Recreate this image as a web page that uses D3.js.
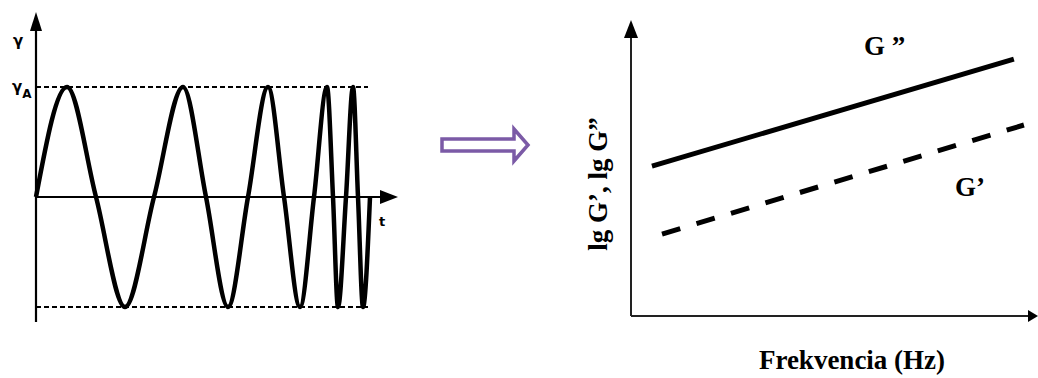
<!DOCTYPE html>
<html>
<head>
<meta charset="utf-8">
<script src="https://cdn.jsdelivr.net/npm/d3@7"></script>
<style>
  html, body { margin: 0; padding: 0; background: #fff; }
  svg { display: block; }
</style>
</head>
<body>
<div id="chart"></div>
<script>
// Left panel: oscillation with increasing frequency (zero crossings and extrema)
var waveT = [0, 31, 60, 89, 118, 147, 170, 192, 212, 232, 248, 264, 278, 291, 297, 302, 310, 317, 322, 327, 334];
var waveY = [0, 1, 0, -1, 0, 1, 0, -1, 0, 1, 0, -1, 0, 1, 0, -1, 0, 1, 0, -1, 0];

// Right panel: lg G' and lg G'' against log frequency
var freqLog = [0.52, 9.5];
var gDoublePrime = [5.03, 8.62];
var gPrime = [2.75, 6.41];

var w = 1038;
var h = 378;

var svg = d3.select("#chart")
    .append("svg")
    .attr("width", w)
    .attr("height", h);

// ---------- left panel ----------
var xL = d3.scaleLinear().domain([0, 334]).range([36, 370]);
var yL = d3.scaleLinear().domain([-1, 1]).range([307, 87]);

var left = svg.append("g");

// amplitude guide lines
[1, -1].forEach(function (v) {
    left.append("line")
        .attr("x1", xL(0)).attr("x2", 368)
        .attr("y1", yL(v)).attr("y2", yL(v))
        .attr("stroke", "#000")
        .attr("stroke-width", 2)
        .attr("stroke-dasharray", "5,3");
});

// axes
left.append("line")
    .attr("x1", xL(0)).attr("x2", xL(0))
    .attr("y1", 322).attr("y2", 28)
    .attr("stroke", "#000").attr("stroke-width", 2.2);
left.append("path")
    .attr("d", "M" + xL(0) + ",12 L" + (xL(0) - 6) + ",31 L" + (xL(0) + 6) + ",31 Z")
    .attr("fill", "#000");

left.append("line")
    .attr("x1", xL(0)).attr("x2", 382)
    .attr("y1", yL(0)).attr("y2", yL(0))
    .attr("stroke", "#000").attr("stroke-width", 2.2);
left.append("path")
    .attr("d", "M398," + yL(0) + " L380," + (yL(0) - 7) + " L380," + (yL(0) + 7) + " Z")
    .attr("fill", "#000");

var wave = d3.line()
    .x(function (d) { return xL(d[0]); })
    .y(function (d) { return yL(d[1]); })
    .curve(d3.curveMonotoneX);

left.append("path")
    .datum(waveT.map(function (t, i) { return [t, waveY[i]]; }))
    .attr("d", wave)
    .attr("fill", "none")
    .attr("stroke", "#000")
    .attr("stroke-width", 4.5)
    .attr("stroke-linejoin", "round");

left.append("text")
    .attr("x", 13).attr("y", 46)
    .style("font", "bold 15px 'DejaVu Sans', sans-serif")
    .text("γ");

var gA = left.append("text")
    .attr("x", 12).attr("y", 92)
    .style("font", "bold 15px 'DejaVu Sans', sans-serif");
gA.append("tspan").text("γ");
gA.append("tspan").attr("dy", 6).style("font-size", "12px").text("A");

left.append("text")
    .attr("x", 379).attr("y", 226)
    .style("font", "bold 13px 'DejaVu Sans', sans-serif")
    .text("t");

// ---------- middle arrow ----------
svg.append("path")
    .attr("d", "M442,139 L514,139 L514,129 L528,145 L514,161 L514,151 L442,151 Z")
    .attr("fill", "none")
    .attr("stroke", "#7b5aa6")
    .attr("stroke-width", 3.5)
    .attr("stroke-linejoin", "miter");

// ---------- right panel ----------
var xR = d3.scaleLinear().domain([0, 10]).range([631, 1034]);
var yR = d3.scaleLinear().domain([0, 10]).range([316, 18]);

var right = svg.append("g");

right.append("line")
    .attr("x1", xR(0)).attr("x2", xR(0))
    .attr("y1", yR(0)).attr("y2", 36)
    .attr("stroke", "#222").attr("stroke-width", 2);
right.append("path")
    .attr("d", "M" + xR(0) + ",20 L" + (xR(0) - 7) + ",38 L" + (xR(0) + 7) + ",38 Z")
    .attr("fill", "#000");

right.append("line")
    .attr("x1", xR(0)).attr("x2", 1030)
    .attr("y1", yR(0)).attr("y2", yR(0))
    .attr("stroke", "#222").attr("stroke-width", 2);
right.append("path")
    .attr("d", "M1038," + yR(0) + " L1028," + (yR(0) - 6) + " L1028," + (yR(0) + 6) + " Z")
    .attr("fill", "#000");

var gLine = d3.line()
    .x(function (d) { return xR(d[0]); })
    .y(function (d) { return yR(d[1]); });

right.append("path")
    .datum(freqLog.map(function (f, i) { return [f, gDoublePrime[i]]; }))
    .attr("d", gLine)
    .attr("fill", "none")
    .attr("stroke", "#000")
    .attr("stroke-width", 5);

right.append("path")
    .datum(freqLog.map(function (f, i) { return [f + 0.25, gPrime[i]]; }))
    .attr("d", gLine)
    .attr("fill", "none")
    .attr("stroke", "#000")
    .attr("stroke-width", 5)
    .attr("stroke-dasharray", "19,17");

var serif = "'Liberation Serif', 'Times New Roman', serif";

right.append("text")
    .attr("x", 864).attr("y", 55)
    .style("font", "bold 27px " + serif)
    .text("G ”");

right.append("text")
    .attr("x", 955).attr("y", 196)
    .style("font", "bold 27px " + serif)
    .text("G’");

right.append("text")
    .attr("x", 852).attr("y", 369)
    .attr("text-anchor", "middle")
    .style("font", "bold 27px " + serif)
    .text("Frekvencia (Hz)");

right.append("text")
    .attr("transform", "translate(607,184) rotate(-90)")
    .attr("text-anchor", "middle")
    .style("font", "bold 27px " + serif)
    .text("lg G’, lg G”");
</script>
</body>
</html>
